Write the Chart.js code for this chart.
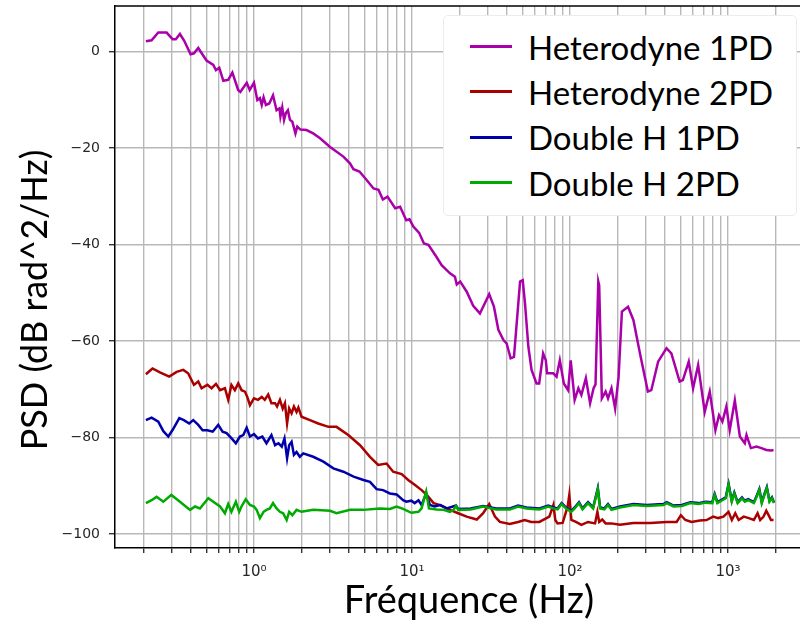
<!DOCTYPE html>
<html>
<head>
<meta charset="utf-8">
<script src="https://cdn.jsdelivr.net/npm/chart.js@4.4.1/dist/chart.umd.min.js"></script>
<style>
  html, body { margin: 0; padding: 0; background: #fff; overflow: hidden; }
  #wrap { position: relative; width: 800px; height: 622px; overflow: hidden; }
  #psd-chart { position: absolute; left: 0; top: 0; }
  #legend {
    position: absolute; left: 443px; top: 15px; width: 354px; height: 201px;
    box-sizing: border-box; padding-top: 8px;
    background: #fff; border: 1px solid #ececec; border-radius: 5px;
    font-family: Lato, sans-serif; font-size: 33px; color: #000;
  }
  .legend__item { display: flex; align-items: center; height: 45.3px; white-space: nowrap; }
  .legend__swatch { display: inline-block; width: 42px; height: 3px; margin-left: 26px; margin-right: 16px; }
</style>
</head>
<body>
<div id="wrap">
  <canvas id="psd-chart" width="823" height="622"></canvas>
  <div id="legend"></div>
</div>
<script>
// Heterodyne 1PD
const het1Freq = [0.207, 0.225, 0.248, 0.28, 0.306, 0.32, 0.34, 0.362, 0.397, 0.417, 0.444, 0.467, 0.501, 0.553, 0.575, 0.603, 0.64, 0.687, 0.73, 0.794, 0.82, 0.9, 0.94, 1.0, 1.05, 1.09, 1.12, 1.15, 1.19, 1.25, 1.32, 1.39, 1.45, 1.47, 1.51, 1.55, 1.59, 1.64, 1.69, 1.75, 1.83, 1.88, 1.97, 2.15, 2.37, 2.62, 3.03, 3.68, 4.05, 4.26, 4.65, 5.18, 5.71, 6.14, 6.54, 7.0, 7.83, 8.41, 9.2, 9.65, 10.2, 11.1, 11.9, 12.7, 14.3, 15.4, 17.4, 18.7, 19.2, 20.2, 22.2, 24.4, 26.9, 30.8, 33.0, 35.2, 37.9, 39.7, 42.1, 44.2, 48.3, 50.2, 51.9, 54.5, 57.1, 61.4, 63.8, 67.6, 70.3, 71.6, 78.3, 82.2, 86.2, 91.4, 97.3, 101, 107, 113, 118, 126, 134, 141, 145, 151, 153, 159, 168, 174, 183, 193, 203, 213, 233, 252, 278, 311, 327, 361, 408, 438, 494, 518, 564, 601, 647, 712, 766, 832, 877, 921, 976, 1025, 1104, 1188, 1277, 1309, 1395, 1514, 1626, 1748, 1878, 1941];
const het1Psd = [2.1, 2.3, 3.9, 3.9, 2.5, 2.5, 3.6, 2.2, -0.6, -0.4, 0.7, -0.4, -1.9, -2.8, -3.9, -3.4, -6.1, -5.9, -4.4, -8.0, -8.4, -6.5, -8.0, -6.5, -10.1, -9.7, -11.1, -9.5, -11.1, -10.8, -9.1, -12.2, -11.8, -13.5, -11.6, -14.2, -12.8, -12.2, -14.2, -14.6, -17.0, -15.6, -16.2, -16.3, -17.0, -18.0, -19.8, -21.8, -23.2, -24.4, -24.9, -26.7, -28.4, -28.7, -30.7, -30.1, -32.5, -32.2, -35.0, -34.8, -36.3, -37.6, -39.8, -40.1, -42.6, -44.3, -46.0, -46.7, -48.3, -47.7, -49.8, -52.7, -54.3, -50.3, -52.9, -57.7, -59.8, -60.5, -63.6, -63.3, -47.7, -47.4, -52.2, -61.2, -66.0, -68.8, -68.8, -62.6, -64.0, -66.7, -66.7, -67.4, -64.0, -68.8, -70.2, -64.0, -72.2, -69.8, -71.2, -67.7, -72.9, -69.8, -69.0, -47.7, -48.5, -71.9, -70.5, -71.9, -69.8, -74.0, -67.4, -53.9, -52.9, -55.7, -62.8, -70.5, -70.2, -64.3, -61.5, -62.6, -68.4, -68.1, -64.3, -69.8, -65.0, -74.7, -70.5, -78.5, -75.4, -76.7, -73.6, -78.5, -72.3, -79.8, -81.2, -79.5, -82.2, -81.9, -82.2, -82.6, -82.7, -82.6];

// Heterodyne 2PD
const het2Freq = [0.207, 0.228, 0.254, 0.291, 0.324, 0.357, 0.383, 0.417, 0.444, 0.466, 0.507, 0.539, 0.575, 0.61, 0.655, 0.687, 0.72, 0.757, 0.795, 0.835, 0.877, 0.907, 0.943, 1.0, 1.06, 1.12, 1.17, 1.23, 1.29, 1.36, 1.4, 1.46, 1.52, 1.57, 1.62, 1.67, 1.73, 1.79, 1.86, 1.91, 2.0, 2.26, 2.55, 2.96, 3.33, 3.95, 4.69, 5.42, 6.11, 6.9, 7.6, 8.6, 9.46, 10.4, 11.5, 12.4, 13.7, 15.1, 17.4, 19.6, 22.2, 25.7, 28.2, 30.8, 33.5, 36, 41.6, 46.9, 51.6, 56.8, 64, 74, 78.5, 80.7, 83.4, 89.8, 96.7, 99, 102, 109, 118, 130, 144, 149, 153, 160, 168, 183, 207, 252, 322, 409, 473, 503, 537, 588, 663, 731, 805, 866, 935, 1007, 1057, 1111, 1167, 1257, 1353, 1457, 1538, 1598, 1678, 1746, 1806, 1870, 1941];
const het2Psd = [-66.9, -65.7, -66.5, -67.4, -66.4, -66.0, -66.7, -69.1, -68.4, -69.8, -69.1, -69.8, -68.9, -70.2, -69.8, -72.2, -69.1, -70.2, -68.8, -70.2, -70.5, -71.6, -73.3, -71.9, -72.2, -71.6, -72.2, -71.1, -72.9, -72.9, -73.6, -72.2, -74.0, -72.9, -77.1, -74.0, -75.0, -73.6, -74.7, -73.8, -75.7, -76.4, -77.1, -77.8, -77.8, -79.5, -81.6, -84.0, -85.7, -85.4, -87.1, -87.6, -88.8, -89.8, -90.9, -91.9, -93.6, -94.0, -95.0, -95.7, -96.4, -97.0, -95.7, -93.8, -96.4, -97.5, -97.9, -97.5, -97.1, -97.5, -97.5, -96.4, -94.0, -97.1, -97.8, -97.7, -94.3, -91.9, -97.1, -97.5, -98.1, -97.5, -97.8, -95.4, -97.5, -97.0, -97.8, -97.8, -98.1, -97.7, -97.7, -97.5, -97.5, -96.1, -97.1, -97.5, -97.2, -97.1, -96.4, -96.7, -96.4, -95.4, -97.1, -95.7, -97.1, -96.4, -96.7, -97.1, -95.7, -97.1, -96.4, -95.2, -96.1, -97.1, -97.1];

// Double H 1PD
const dh1Freq = [0.207, 0.225, 0.248, 0.267, 0.287, 0.306, 0.337, 0.36, 0.389, 0.413, 0.444, 0.473, 0.507, 0.548, 0.594, 0.633, 0.671, 0.722, 0.768, 0.815, 0.856, 0.899, 0.943, 1.0, 1.06, 1.13, 1.2, 1.29, 1.36, 1.43, 1.5, 1.56, 1.62, 1.67, 1.73, 1.79, 1.86, 1.95, 2.05, 2.37, 2.75, 3.18, 3.68, 4.27, 4.93, 5.42, 5.97, 6.56, 7.25, 7.99, 8.79, 9.2, 9.9, 10.4, 11.0, 11.5, 12.3, 13.0, 13.9, 15.1, 16.6, 19.0, 19.6, 23.5, 28.2, 34.1, 41.6, 46.9, 53, 64, 72.8, 78.5, 83.4, 88.5, 94.5, 101.8, 107, 114, 120, 130, 140, 150, 155, 165, 174, 183, 207, 252, 306, 390, 409, 452, 510, 577, 652, 720, 795, 823, 856, 921, 967, 1008, 1056, 1096, 1150, 1226, 1277, 1341, 1457, 1518, 1578, 1635, 1700, 1760, 1830, 1897, 1950];
const dh1Psd = [-76.4, -75.9, -76.7, -78.7, -79.8, -78.4, -76.0, -76.4, -77.1, -76.4, -77.4, -78.5, -78.5, -78.8, -77.4, -78.8, -79.1, -80.2, -81.2, -79.8, -79.5, -78.0, -79.8, -79.3, -80.2, -79.8, -81.2, -79.5, -81.6, -81.2, -81.9, -80.2, -84.3, -81.6, -80.9, -83.6, -83.0, -84.0, -83.3, -84.0, -85.0, -86.4, -87.1, -88.1, -88.8, -89.2, -90.7, -90.9, -91.6, -91.8, -93.0, -93.3, -93.1, -93.6, -93.0, -94.0, -91.6, -94.0, -94.3, -94.0, -94.7, -94.1, -94.8, -94.7, -94.2, -94.7, -94.7, -94.1, -94.5, -94.7, -94.1, -94.5, -94.7, -93.6, -94.5, -95.2, -94.5, -93.4, -94.7, -93.4, -94.5, -90.5, -94.5, -94.7, -93.8, -94.8, -94.3, -93.8, -94.0, -93.8, -93.4, -94.1, -94.0, -93.4, -93.6, -93.3, -93.4, -91.7, -93.4, -92.8, -92.4, -89.6, -93.1, -91.4, -93.4, -92.4, -93.1, -92.8, -93.4, -92.1, -90.7, -93.4, -91.7, -90.3, -93.1, -92.4, -93.4];

// Double H 2PD
const dh2Freq = [0.207, 0.225, 0.242, 0.267, 0.3, 0.34, 0.394, 0.424, 0.455, 0.514, 0.553, 0.61, 0.655, 0.687, 0.72, 0.768, 0.806, 0.834, 0.887, 0.943, 1.0, 1.04, 1.09, 1.15, 1.2, 1.26, 1.32, 1.39, 1.46, 1.53, 1.61, 1.67, 1.75, 1.86, 2.0, 2.37, 3.03, 3.33, 4.06, 4.93, 6.27, 7.25, 7.99, 8.79, 9.9, 11.0, 11.5, 12.3, 12.8, 14.3, 15.8, 17.4, 18.3, 19.0, 19.6, 23.5, 28.2, 34.1, 41.6, 46.9, 53, 64, 72.8, 78.5, 83.4, 88.5, 94.5, 101.8, 107, 114, 120, 130, 140, 150, 155, 165, 174, 183, 207, 252, 306, 390, 409, 452, 510, 577, 652, 720, 795, 823, 856, 921, 967, 1008, 1056, 1096, 1150, 1226, 1277, 1341, 1457, 1518, 1578, 1635, 1700, 1760, 1830, 1897, 1950];
const dh2Psd = [-93.6, -93.0, -92.3, -93.3, -91.9, -93.3, -95.0, -94.3, -94.7, -92.6, -93.3, -94.3, -95.7, -93.8, -95.4, -93.3, -95.4, -94.3, -92.8, -94.0, -94.3, -95.0, -96.7, -95.4, -95.0, -94.7, -93.6, -94.7, -95.4, -95.7, -97.1, -95.4, -96.1, -95.0, -95.4, -95.0, -95.2, -95.7, -95.0, -95.0, -94.7, -94.8, -94.3, -94.8, -95.6, -95.4, -94.7, -91.2, -94.7, -94.9, -95.0, -95.4, -95.0, -94.2, -95.0, -94.9, -94.3, -94.9, -94.9, -94.3, -94.7, -94.9, -94.3, -94.7, -94.9, -93.8, -94.7, -95.4, -94.7, -93.6, -94.9, -93.6, -94.7, -90.7, -94.7, -94.9, -94.0, -95.0, -94.5, -94.0, -94.2, -94.0, -93.6, -94.3, -94.2, -93.6, -93.8, -93.5, -93.6, -91.9, -93.6, -93.0, -92.6, -89.8, -93.3, -91.6, -93.6, -92.6, -93.3, -93.0, -93.6, -92.3, -90.9, -93.6, -91.9, -90.5, -93.3, -92.6, -93.6];

const seriesLabels = ["Heterodyne 1PD", "Heterodyne 2PD", "Double H 1PD", "Double H 2PD"];
const seriesColors = ["#aa00aa", "#aa0000", "#0000aa", "#00aa00"];

const xTicks = [0.2, 0.3, 0.4, 0.5, 0.6, 0.7, 0.8, 0.9, 1, 2, 3, 4, 5, 6, 7, 8, 9, 10, 20, 30, 40, 50, 60, 70, 80, 90, 100, 200, 300, 400, 500, 600, 700, 800, 900, 1000, 2000, 3000];
const yTicks = [-100, -80, -60, -40, -20, 0];
const xMin = 0.132;
const xMax = 3990;
const yMin = -102.9;
const yMax = 9.4;

const supDigits = { "0": "\u2070", "1": "\u00b9", "2": "\u00b2", "3": "\u00b3", "-": "\u207b" };

function toPoints(freq, psd) {
  return freq.map((f, i) => ({ x: f, y: psd[i] }));
}

const allSeries = [
  toPoints(het1Freq, het1Psd),
  toPoints(het2Freq, het2Psd),
  toPoints(dh1Freq, dh1Psd),
  toPoints(dh2Freq, dh2Psd),
];

const gridColor = "#b8b8b8";

const frame = {
  id: "frame",
  afterDraw(chart) {
    const { ctx, chartArea } = chart;
    ctx.save();
    ctx.strokeStyle = "#000";
    ctx.lineWidth = 1.5;
    ctx.beginPath();
    ctx.moveTo(chartArea.left, chartArea.top);
    ctx.lineTo(chartArea.right, chartArea.top);
    ctx.stroke();

    // y title, centred where the reference puts it
    ctx.translate(35, 300);
    ctx.rotate(-Math.PI / 2);
    ctx.font = "36px Lato";
    ctx.fillStyle = "#000";
    ctx.textAlign = "center";
    ctx.textBaseline = "middle";
    ctx.fillText("PSD (dB rad^2/Hz)", 0, 0);
    ctx.restore();
  },
};

Chart.defaults.font.family = "'DejaVu Sans'";
Chart.defaults.color = "#262626";

const chart = new Chart(document.getElementById("psd-chart"), {
  type: "line",
  data: {
    datasets: allSeries.map((pts, i) => ({
      label: seriesLabels[i],
      data: pts,
      borderColor: seriesColors[i],
      backgroundColor: seriesColors[i],
      borderWidth: 2.5,
      pointRadius: 0,
      tension: 0,
      order: allSeries.length - i,
    })),
  },
  options: {
    responsive: false,
    animation: false,
    devicePixelRatio: 1,
    layout: { padding: { top: 6, left: 0, right: 0, bottom: 0 } },
    plugins: {
      legend: { display: false },
      tooltip: { enabled: false },
    },
    scales: {
      x: {
        type: "logarithmic",
        min: xMin,
        max: xMax,
        afterBuildTicks: (scale) => {
          scale.ticks = xTicks.map((v) => ({ value: v }));
        },
        afterFit: (scale) => {
          scale.height = 74;
          scale.paddingLeft = 0;
          scale.paddingRight = 0;
        },
        grid: {
          color: gridColor,
          lineWidth: 1.4,
          tickColor: "#333",
          tickLength: 5,
        },
        border: { color: "#000", width: 1.5 },
        ticks: {
          autoSkip: false,
          maxRotation: 0,
          padding: 10,
          font: { size: 15 },
          callback: (v) => {
            const e = Math.log10(v);
            if (Math.abs(e - Math.round(e)) > 1e-9) return "";
            return "10" + String(Math.round(e)).split("").map((c) => supDigits[c]).join("");
          },
        },
        title: {
          display: true,
          text: "Fréquence (Hz)",
          color: "#000",
          font: { family: "Lato", size: 38, lineHeight: 1.1 },
          padding: { top: 0, bottom: 0 },
        },
      },
      y: {
        type: "linear",
        min: yMin,
        max: yMax,
        afterBuildTicks: (scale) => {
          scale.ticks = yTicks.map((v) => ({ value: v }));
        },
        afterFit: (scale) => {
          scale.width = 115;
          scale.paddingTop = 0;
          scale.paddingBottom = 0;
        },
        grid: {
          color: gridColor,
          lineWidth: 1.4,
          tickColor: "#333",
          tickLength: 6,
        },
        border: { color: "#000", width: 1.5 },
        ticks: {
          padding: 9,
          font: { size: 14 },
          callback: (v) => (v < 0 ? "\u2212" + Math.abs(v) : String(v)),
        },
      },
    },
  },
  plugins: [frame],
});

// legend box drawn over the plot, like the reference
const legendEl = document.getElementById("legend");
chart.data.datasets.forEach((ds) => {
  const row = document.createElement("div");
  row.className = "legend__item";
  const swatch = document.createElement("span");
  swatch.className = "legend__swatch";
  swatch.style.background = ds.borderColor;
  const label = document.createElement("span");
  label.textContent = ds.label;
  row.appendChild(swatch);
  row.appendChild(label);
  legendEl.appendChild(row);
});
</script>
</body>
</html>
